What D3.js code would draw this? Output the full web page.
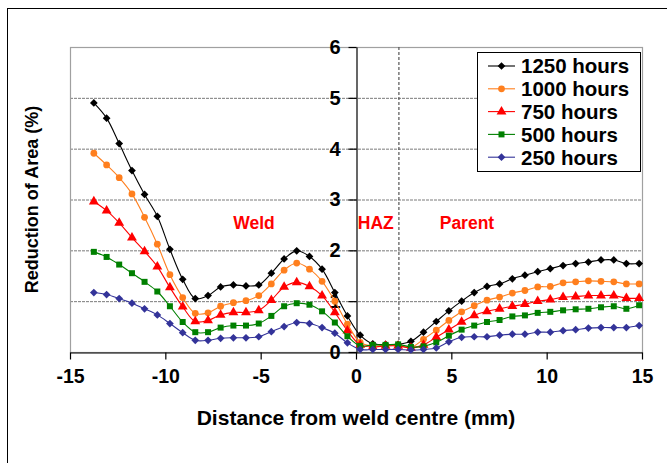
<!DOCTYPE html>
<html>
<head>
<meta charset="utf-8">
<script src="https://cdn.jsdelivr.net/npm/d3@7"></script>
<style>
  html, body { margin: 0; padding: 0; background: #fff; }
  svg { display: block; font-family: "Liberation Sans", Arial, sans-serif; font-weight: bold; }
</style>
</head>
<body>
<svg id="chart" width="667" height="463"></svg>
<script>
// Measurement positions across the weld (mm from weld centre)
const distance = [-13.75, -13.08, -12.42, -11.75, -11.09, -10.42, -9.76, -9.09, -8.43, -7.76,
                  -7.10, -6.43, -5.77, -5.10, -4.44, -3.77, -3.11, -2.44, -1.78, -1.11,
                  -0.45, 0.22, 0.88, 1.55, 2.21, 2.88, 3.54, 4.21, 4.87, 5.54,
                  6.20, 6.87, 7.53, 8.20, 8.86, 9.53, 10.19, 10.86, 11.52, 12.19,
                  12.85, 13.52, 14.18, 14.85];

// Reduction of area (%) after each exposure time
const ra1250 = [4.90, 4.60, 4.10, 3.57, 3.10, 2.67, 2.02, 1.43, 1.05, 1.11,
                1.28, 1.32, 1.30, 1.32, 1.55, 1.83, 1.99, 1.88, 1.63, 1.17,
                0.71, 0.33, 0.16, 0.15, 0.15, 0.21, 0.39, 0.60, 0.81, 1.00,
                1.17, 1.29, 1.34, 1.44, 1.51, 1.58, 1.64, 1.70, 1.74, 1.77,
                1.81, 1.81, 1.74, 1.74];
const ra1000 = [3.91, 3.68, 3.43, 3.11, 2.65, 2.12, 1.52, 1.07, 0.76, 0.77,
                0.90, 0.97, 1.01, 1.11, 1.34, 1.61, 1.75, 1.63, 1.39, 1.00,
                0.55, 0.19, 0.12, 0.13, 0.13, 0.09, 0.25, 0.43, 0.62, 0.79,
                0.91, 1.02, 1.08, 1.16, 1.21, 1.28, 1.29, 1.36, 1.38, 1.40,
                1.39, 1.38, 1.34, 1.34];
const ra750  = [2.96, 2.78, 2.54, 2.25, 1.98, 1.68, 1.27, 0.89, 0.60, 0.62,
                0.73, 0.78, 0.78, 0.82, 1.02, 1.28, 1.37, 1.29, 1.11, 0.78,
                0.42, 0.14, 0.10, 0.12, 0.12, 0.08, 0.14, 0.29, 0.44, 0.59,
                0.72, 0.80, 0.85, 0.90, 0.94, 1.00, 1.03, 1.08, 1.09, 1.11,
                1.11, 1.11, 1.06, 1.06];
const ra500  = [1.97, 1.87, 1.72, 1.55, 1.38, 1.19, 0.90, 0.59, 0.39, 0.39,
                0.48, 0.52, 0.52, 0.56, 0.71, 0.90, 0.96, 0.93, 0.80, 0.58,
                0.31, 0.12, 0.14, 0.14, 0.15, 0.10, 0.11, 0.19, 0.32, 0.44,
                0.52, 0.59, 0.63, 0.70, 0.72, 0.77, 0.79, 0.82, 0.84, 0.85,
                0.88, 0.90, 0.85, 0.92];
const ra250  = [1.17, 1.13, 1.05, 0.96, 0.85, 0.73, 0.56, 0.38, 0.23, 0.23,
                0.27, 0.28, 0.28, 0.30, 0.40, 0.50, 0.58, 0.56, 0.48, 0.37,
                0.18, 0.05, 0.05, 0.05, 0.05, 0.04, 0.05, 0.08, 0.20, 0.29,
                0.30, 0.30, 0.33, 0.35, 0.35, 0.39, 0.39, 0.42, 0.44, 0.47,
                0.48, 0.48, 0.48, 0.52];

const seriesNames = ["1250 hours", "1000 hours", "750 hours", "500 hours", "250 hours"];
const seriesValues = [ra1250, ra1000, ra750, ra500, ra250];

const xTicks = [-15, -10, -5, 0, 5, 10, 15];
const yTicks = [0, 1, 2, 3, 4, 5, 6];

// Zone annotations: name and centre position (mm), and the HAZ / parent boundary
const zoneNames = ["Weld", "HAZ", "Parent"];
const zoneCentres = [-5.35, 1.04, 5.82];
const hazBoundary = 2.25;

// ---- styling ----
const styles = [
  { color: "#000000", shape: "diamond", size: 30 },
  { color: "#FF7F1E", shape: "circle",  size: 36 },
  { color: "#FF0000", shape: "triangle", size: 42 },
  { color: "#008000", shape: "square",  size: 36 },
  { color: "#333399", shape: "diamond", size: 30 }
];

const svg = d3.select("#chart");
const plot = { left: 70, right: 642, top: 47, bottom: 352 };

const x = d3.scaleLinear().domain([-15, 15]).range([plot.left, plot.right]);
const y = d3.scaleLinear().domain([0, 6]).range([plot.bottom, plot.top]);

// outer chart frame
svg.append("rect")
  .attr("x", 7.5).attr("y", 8.5).attr("width", 720).attr("height", 520)
  .attr("fill", "none").attr("stroke", "#000").attr("stroke-width", 1);

// gridlines
svg.append("g")
  .selectAll("line")
  .data(yTicks.filter(v => v > 0 && v < 6))
  .join("line")
  .attr("x1", plot.left).attr("x2", plot.right)
  .attr("y1", d => y(d) + 0.5).attr("y2", d => y(d) + 0.5)
  .attr("stroke", "#7a7a7a").attr("stroke-width", 1)
  .attr("stroke-dasharray", "3,1");

// plot area border
svg.append("rect")
  .attr("x", plot.left + 0.5).attr("y", plot.top + 0.5)
  .attr("width", plot.right - plot.left).attr("height", plot.bottom - plot.top)
  .attr("fill", "none").attr("stroke", "#a0a0a0").attr("stroke-width", 1.2);

// HAZ / parent boundary
svg.append("line")
  .attr("x1", x(hazBoundary)).attr("x2", x(hazBoundary))
  .attr("y1", plot.top).attr("y2", plot.bottom)
  .attr("stroke", "#555").attr("stroke-width", 1.2)
  .attr("stroke-dasharray", "3,2");

// x axis
const xAxis = svg.append("g")
  .attr("transform", `translate(0,${plot.bottom + 0.5})`)
  .call(d3.axisBottom(x).tickValues(xTicks).tickSize(7).tickSizeOuter(0).tickPadding(10)
        .tickFormat(d3.format("d")));
xAxis.select(".domain").attr("stroke", "#000").attr("stroke-width", 1.2);
xAxis.selectAll(".tick line").attr("stroke", "#000").attr("stroke-width", 1.2);
xAxis.selectAll(".tick text")
  .attr("fill", "#000").attr("font-size", 19.5).attr("font-weight", "bold")
  .attr("font-family", "Liberation Sans, Arial, sans-serif")
  .text(d => d < 0 ? "-" + Math.abs(d) : d);

// y axis, crossing at x = 0
const yAxis = svg.append("g")
  .attr("transform", `translate(${x(0) + 0.5},0)`)
  .call(d3.axisLeft(y).tickValues(yTicks).tickSize(8).tickSizeOuter(0).tickPadding(8)
        .tickFormat(d3.format("d")));
yAxis.select(".domain").attr("stroke", "#000").attr("stroke-width", 1.2);
yAxis.selectAll(".tick line").attr("stroke", "#000").attr("stroke-width", 1.2);
yAxis.selectAll(".tick text")
  .attr("fill", "#000").attr("font-size", 20).attr("font-weight", "bold")
  .attr("font-family", "Liberation Sans, Arial, sans-serif");

// zone labels
svg.append("g")
  .selectAll("text")
  .data(zoneNames)
  .join("text")
  .attr("x", (d, i) => x(zoneCentres[i]))
  .attr("y", y(2.41))
  .attr("text-anchor", "middle")
  .attr("fill", "#FF0000")
  .attr("font-size", 17.5)
  .text(d => d);

// marker shapes
function markerPath(style) {
  const type = { diamond: d3.symbolSquare, circle: d3.symbolCircle,
                 triangle: d3.symbolTriangle, square: d3.symbolSquare }[style.shape];
  return d3.symbol().type(type).size(style.size)();
}
function markerTransform(style, px, py) {
  return style.shape === "diamond"
    ? `translate(${px},${py}) rotate(45)`
    : `translate(${px},${py})`;
}

const line = d3.line()
  .x((d, i) => x(distance[i]))
  .y(d => y(d))
  .curve(d3.curveCatmullRom.alpha(0.5));

const seriesG = svg.append("g")
  .selectAll("g")
  .data(seriesValues)
  .join("g");

seriesG.append("path")
  .attr("d", d => line(d))
  .attr("fill", "none")
  .attr("stroke", (d, i) => styles[i].color)
  .attr("stroke-width", 1.1);

seriesG.each(function(values, si) {
  const st = styles[si];
  d3.select(this).selectAll("path.mk")
    .data(values)
    .join("path")
    .attr("class", "mk")
    .attr("d", markerPath(st))
    .attr("transform", (v, i) => markerTransform(st, x(distance[i]), y(v)))
    .attr("fill", st.color);
});

// legend
const legend = svg.append("g");
legend.append("rect")
  .attr("x", 477.5).attr("y", 52.5).attr("width", 163).attr("height", 119)
  .attr("fill", "#fff").attr("stroke", "#000").attr("stroke-width", 1);

const rows = legend.selectAll("g.row")
  .data(seriesNames)
  .join("g")
  .attr("class", "row")
  .attr("transform", (d, i) => `translate(0,${66 + i * 22.8})`);

rows.append("line")
  .attr("x1", 488).attr("x2", 515).attr("y1", 0).attr("y2", 0)
  .attr("stroke", (d, i) => styles[i].color).attr("stroke-width", 1.1);
rows.append("path")
  .attr("d", (d, i) => markerPath(styles[i]))
  .attr("transform", (d, i) => markerTransform(styles[i], 501.5, 0))
  .attr("fill", (d, i) => styles[i].color);
rows.append("text")
  .attr("x", 521).attr("y", 0).attr("dy", "0.36em")
  .attr("font-size", 20.5)
  .attr("fill", "#000")
  .text(d => d);

// axis titles
svg.append("text")
  .attr("x", x(0)).attr("y", 425)
  .attr("text-anchor", "middle")
  .attr("font-size", 21)
  .text("Distance from weld centre (mm)");

svg.append("text")
  .attr("transform", `translate(38,${(plot.top + plot.bottom) / 2}) rotate(-90)`)
  .attr("text-anchor", "middle")
  .attr("font-size", 18)
  .text("Reduction of Area (%)");
</script>
</body>
</html>
